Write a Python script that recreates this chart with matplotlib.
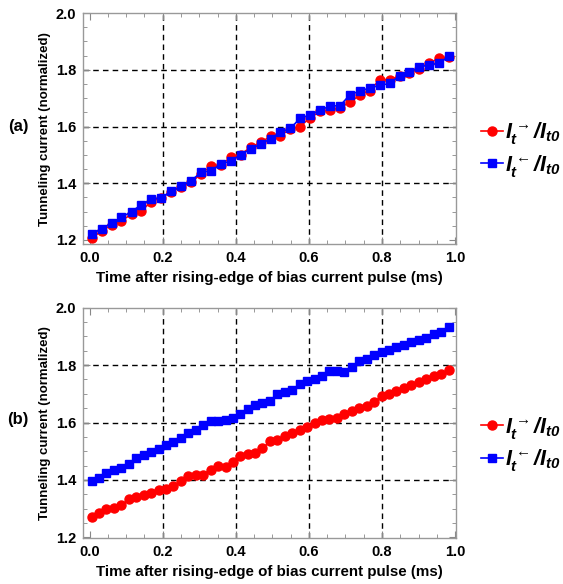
import matplotlib
matplotlib.use('Agg')
import matplotlib.pyplot as plt
from matplotlib.ticker import MultipleLocator

plt.rcParams['font.family'] = ['Liberation Sans', 'DejaVu Sans']
plt.rcParams['font.weight'] = 'bold'
plt.rcParams['mathtext.fontset'] = 'custom'
plt.rcParams['mathtext.rm'] = 'Liberation Sans:bold:italic'
plt.rcParams['mathtext.it'] = 'Liberation Sans:bold:italic'
plt.rcParams['mathtext.bf'] = 'Liberation Sans:bold:italic'

# panel (a) data
time_a = [0.006, 0.033, 0.060, 0.087, 0.115, 0.142, 0.169, 0.196, 0.223, 0.250,
          0.278, 0.305, 0.332, 0.359, 0.386, 0.413, 0.441, 0.468, 0.495, 0.522,
          0.549, 0.576, 0.603, 0.631, 0.658, 0.685, 0.712, 0.739, 0.766, 0.794,
          0.821, 0.848, 0.875, 0.902, 0.929, 0.957, 0.984]
fwd_a = [1.206, 1.232, 1.252, 1.267, 1.291, 1.303, 1.335, 1.348, 1.370, 1.385,
         1.403, 1.433, 1.460, 1.464, 1.491, 1.501, 1.527, 1.544, 1.565, 1.568,
         1.591, 1.600, 1.631, 1.653, 1.659, 1.666, 1.686, 1.710, 1.727, 1.765,
         1.765, 1.779, 1.789, 1.804, 1.825, 1.840, 1.845]
bwd_a = [1.220, 1.240, 1.259, 1.279, 1.300, 1.324, 1.343, 1.349, 1.371, 1.389,
         1.409, 1.438, 1.443, 1.468, 1.477, 1.501, 1.520, 1.539, 1.556, 1.580,
         1.593, 1.629, 1.641, 1.657, 1.673, 1.673, 1.712, 1.725, 1.736, 1.745,
         1.752, 1.779, 1.791, 1.810, 1.818, 1.823, 1.850]

# panel (b) data
time_b = [0.006, 0.026, 0.046, 0.067, 0.087, 0.107, 0.128, 0.148, 0.168, 0.189,
          0.209, 0.229, 0.250, 0.270, 0.290, 0.311, 0.331, 0.351, 0.372, 0.392,
          0.412, 0.433, 0.453, 0.473, 0.494, 0.514, 0.534, 0.555, 0.575, 0.595,
          0.616, 0.636, 0.656, 0.677, 0.697, 0.717, 0.738, 0.758, 0.778, 0.799,
          0.819, 0.839, 0.860, 0.880, 0.900, 0.921, 0.941, 0.961, 0.982]
fwd_b = [1.270, 1.284, 1.298, 1.303, 1.312, 1.333, 1.341, 1.346, 1.355, 1.364,
         1.370, 1.379, 1.395, 1.413, 1.418, 1.419, 1.436, 1.447, 1.446, 1.462,
         1.485, 1.489, 1.494, 1.511, 1.534, 1.540, 1.552, 1.565, 1.574, 1.586,
         1.598, 1.609, 1.611, 1.617, 1.631, 1.640, 1.652, 1.657, 1.671, 1.692,
         1.701, 1.709, 1.721, 1.732, 1.742, 1.750, 1.763, 1.770, 1.782]
bwd_b = [1.397, 1.407, 1.425, 1.434, 1.441, 1.456, 1.478, 1.487, 1.496, 1.508,
         1.522, 1.531, 1.545, 1.562, 1.574, 1.593, 1.604, 1.606, 1.610, 1.617,
         1.628, 1.646, 1.662, 1.667, 1.675, 1.698, 1.708, 1.715, 1.733, 1.744,
         1.750, 1.761, 1.778, 1.781, 1.775, 1.793, 1.813, 1.822, 1.836, 1.847,
         1.853, 1.863, 1.870, 1.882, 1.888, 1.894, 1.908, 1.916, 1.934]

lab_fwd = r'$I_t^{\rightarrow}/I_{t0}$'
lab_bwd = r'$I_t^{\leftarrow}/I_{t0}$'
xlabel = 'Time after rising-edge of bias current pulse (ms)'
ylabel = 'Tunneling current (normalized)'

fig = plt.figure(figsize=(5.63, 5.84), dpi=100)


def draw_panel(rect, ylim, t, fwd, bwd, tag, tag_y, leg_y):
    ax = fig.add_axes(rect)
    ax.plot(t, fwd, '-o', color='#ff0000', ms=6.5, lw=1.2, label=lab_fwd)
    ax.plot(t, bwd, '-s', color='#0000ff', ms=5.8, lw=1.2, label=lab_bwd)
    ax.set_xlim(-0.018, 1.003)
    ax.set_ylim(*ylim)
    ax.xaxis.set_minor_locator(MultipleLocator(0.05))
    ax.yaxis.set_minor_locator(MultipleLocator(0.05))
    ax.set_xticks([0.0, 0.2, 0.4, 0.6, 0.8, 1.0])
    ax.set_xticklabels(['0.0', '0.2', '0.4', '0.6', '0.8', '1.0'])
    ax.set_yticks([1.2, 1.4, 1.6, 1.8, 2.0])
    ax.set_yticklabels(['1.2', '1.4', '1.6', '1.8', '2.0'])
    for g in [0.2, 0.4, 0.6, 0.8]:
        ax.axvline(g, color='black', ls=(0, (4, 3)), lw=1.0, zorder=0)
    for g in [1.4, 1.6, 1.8]:
        ax.axhline(g, color='black', ls=(0, (4, 3)), lw=1.0, zorder=0)
    for s in ax.spines.values():
        s.set_color('#999999')
        s.set_linewidth(1.0)
    ax.tick_params(which='both', direction='in', top=True, right=True,
                   color='#888888', labelsize=10.5, pad=5)
    ax.tick_params(which='major', length=5)
    ax.tick_params(which='minor', length=3)
    ax.set_xlabel(xlabel, fontsize=10.9, fontweight='bold', labelpad=4)
    ax.set_ylabel(ylabel, fontsize=9.5, fontweight='bold', labelpad=3)
    ax.legend(loc='center left', bbox_to_anchor=(0.855, leg_y),
              bbox_transform=fig.transFigure, frameon=False,
              fontsize=15.5, handlelength=1.0, handletextpad=0.1,
              labelspacing=0.3, borderaxespad=0, borderpad=0)
    fig.text(0.032, tag_y, tag, fontsize=12, fontweight='bold',
             va='center', ha='center')
    return ax


draw_panel([0.1474, 0.582, 0.663, 0.3955], (1.185, 2.0),
           time_a, fwd_a, bwd_a, '(a)', 0.784, 0.744)
draw_panel([0.1474, 0.0783, 0.663, 0.3949], (1.197, 2.0),
           time_b, fwd_b, bwd_b, '(b)', 0.281, 0.240)

fig.savefig('out.png', dpi=100)
